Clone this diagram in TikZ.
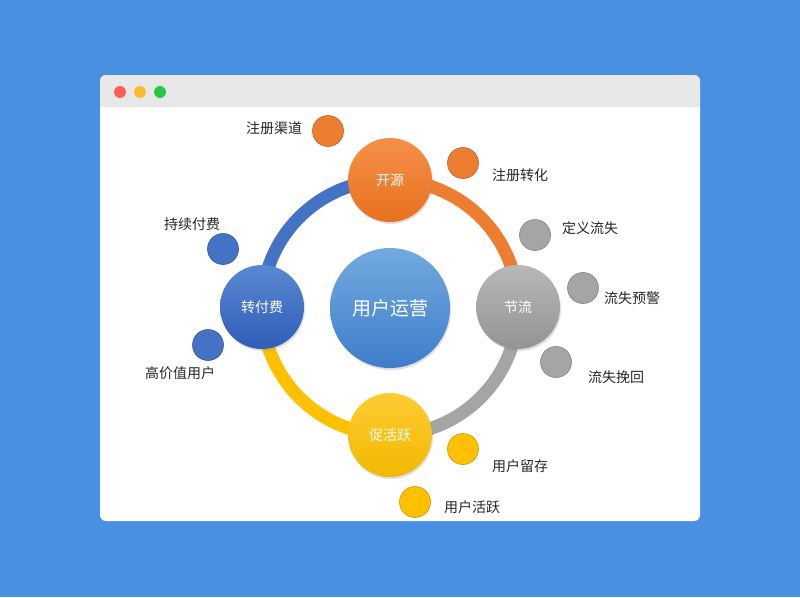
\documentclass[tikz,border=0pt]{standalone}
\usepackage{fontspec}
\setmainfont{Noto Sans CJK SC}
\usetikzlibrary{backgrounds,shadows}
\pgfdeclarelayer{ringlayer}
\pgfsetlayers{background,ringlayer,main}
\definecolor{bgblue}{HTML}{4A90E2}
\definecolor{bargray}{HTML}{E8E8E8}
\definecolor{dotred}{HTML}{FF5F57}
\definecolor{dotyellow}{HTML}{FEBC2E}
\definecolor{dotgreen}{HTML}{28C840}
\definecolor{orgA}{HTML}{F59048}
\definecolor{orgB}{HTML}{E8711E}
\definecolor{orgC}{HTML}{ED7D31}
\definecolor{gryA}{HTML}{B8B8B8}
\definecolor{gryB}{HTML}{949494}
\definecolor{gryC}{HTML}{A5A5A5}
\definecolor{ylwA}{HTML}{FFCC33}
\definecolor{ylwB}{HTML}{F2B800}
\definecolor{ylwC}{HTML}{FFC000}
\definecolor{bluA}{HTML}{5B88D2}
\definecolor{bluB}{HTML}{2F5DB8}
\definecolor{bluC}{HTML}{4472C4}
\definecolor{hubA}{HTML}{72AADF}
\definecolor{hubB}{HTML}{3F7DCA}
\tikzset{
  hub/.style={circle, minimum size=84pt, inner sep=0pt, text=white,
    font=\fontsize{14}{14}\selectfont,
    drop shadow={opacity=0.25, shadow xshift=1pt, shadow yshift=-2pt}},
  leaf/.style={circle, minimum size=31pt, inner sep=0pt, line width=0.6pt},
  tag/.style={font=\fontsize{14}{14}\selectfont, text=black!85},
  arcseg/.style={line width=13pt},
  wdot/.style={circle, minimum size=12pt, inner sep=0pt},
}
\begin{document}
\begin{tikzpicture}[x=1pt,y=-1pt]
\useasboundingbox (0,0) rectangle (800,597);
% window
\begin{pgfonlayer}{background}
\fill[bgblue] (0,0) rectangle (800,597);
\fill[white, rounded corners=6pt] (100,75) rectangle (700,521);
\begin{scope}
\clip[rounded corners=6pt] (100,75) rectangle (700,521);
\fill[bargray] (100,75) rectangle (700,107);
\end{scope}
\end{pgfonlayer}
\node [wdot, fill=dotred] (red) at (120,92) {};
\node [wdot, fill=dotyellow] (yellow) at (140,92) {};
\node [wdot, fill=dotgreen] (green) at (160,92) {};
% hubs
\node [hub, minimum size=120pt, top color=hubA, bottom color=hubB,
  font=\fontsize{19}{19}\selectfont] (core) at (390,308) {用户运营};
\node [hub, top color=orgA, bottom color=orgB] (kaiyuan) at (390,180) {开源};
\node [hub, top color=gryA, bottom color=gryB] (jieliu) at (518,307) {节流};
\node [hub, top color=ylwA, bottom color=ylwB] (cuohuo) at (390,435) {促活跃};
\node [hub, top color=bluA, bottom color=bluB] (zhuanfu) at (262,307) {转付费};
% ring
\begin{pgfonlayer}{ringlayer}
\draw [arcseg, bluC] (zhuanfu.center) to[bend left=45] (kaiyuan.center);
\draw [arcseg, orgC] (kaiyuan.center) to[bend left=45] (jieliu.center);
\draw [arcseg, gryC] (jieliu.center) to[bend left=45] (cuohuo.center);
\draw [arcseg, ylwC] (cuohuo.center) to[bend left=45] (zhuanfu.center);
\end{pgfonlayer}
% leaves
\node [leaf, fill=orgC, draw=orgC!80!black] (qudao) at (328,131) {};
\node [leaf, fill=orgC, draw=orgC!80!black] (zhuanhua) at (463,163) {};
\node [leaf, fill=gryC, draw=gryC!80!black] (dingyi) at (535,235) {};
\node [leaf, fill=gryC, draw=gryC!80!black] (yujing) at (583,288) {};
\node [leaf, fill=gryC, draw=gryC!80!black] (wanhui) at (556,362) {};
\node [leaf, fill=ylwC, draw=ylwC!80!black] (liucun) at (463,449) {};
\node [leaf, fill=ylwC, draw=ylwC!80!black] (huoyue) at (415,502) {};
\node [leaf, fill=bluC, draw=bluC!80!black] (gaojia) at (208,345) {};
\node [leaf, fill=bluC, draw=bluC!80!black] (chixu) at (223,249) {};
% labels
\node [tag] (qudaoT) at (274,128) {注册渠道};
\node [tag] (zhuanhuaT) at (520,175) {注册转化};
\node [tag] (dingyiT) at (590,228) {定义流失};
\node [tag] (yujingT) at (632,298) {流失预警};
\node [tag] (wanhuiT) at (616,377) {流失挽回};
\node [tag] (liucunT) at (520,466) {用户留存};
\node [tag] (huoyueT) at (472,507) {用户活跃};
\node [tag] (gaojiaT) at (180,373) {高价值用户};
\node [tag] (chixuT) at (192,224) {持续付费};
\end{tikzpicture}
\end{document}
